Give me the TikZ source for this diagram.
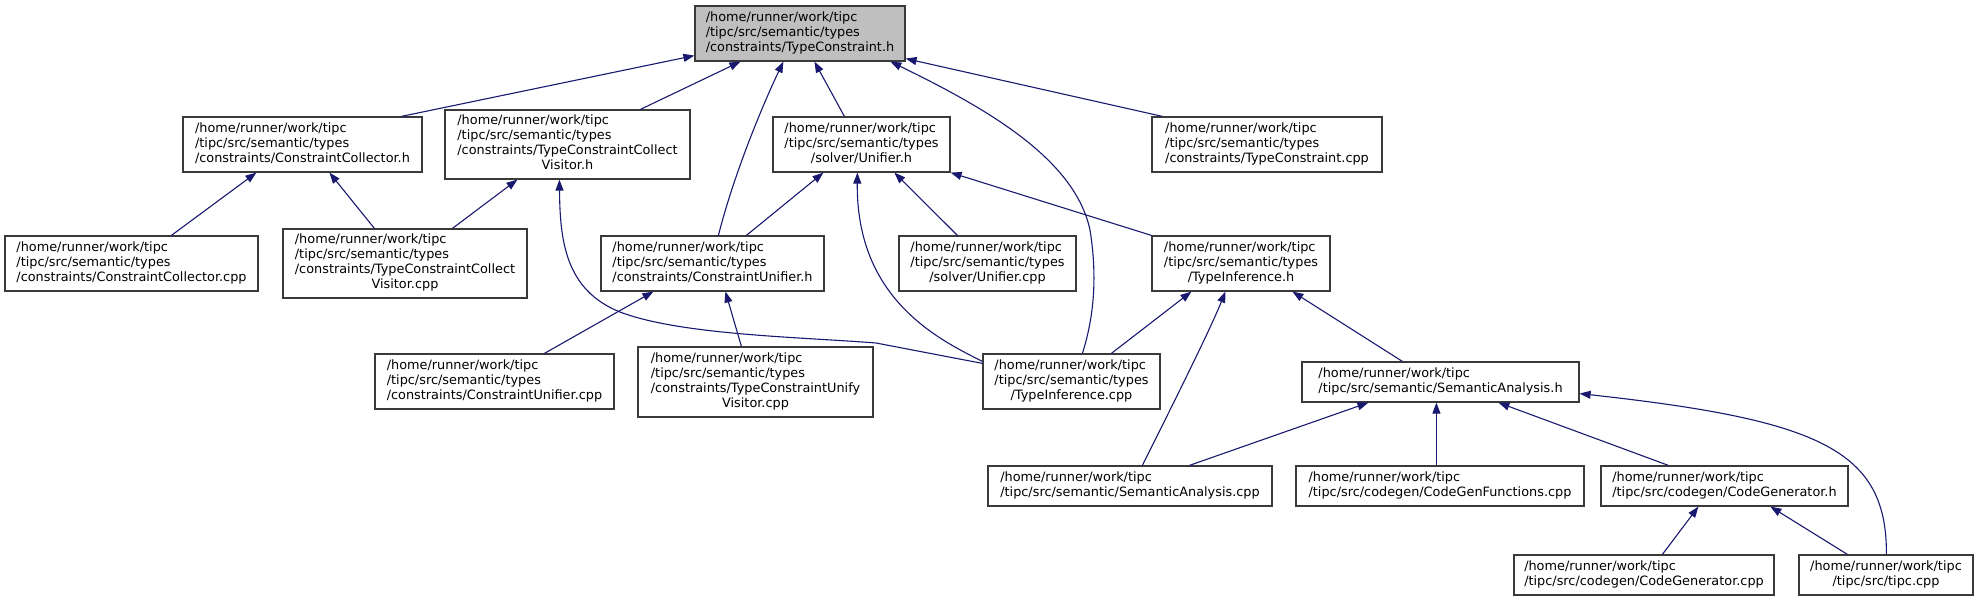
\documentclass[tikz,border=0pt]{standalone}
\usepackage{fontspec}
\setmainfont{DejaVu Sans}
\usetikzlibrary{arrows.meta,calc}
\definecolor{edgec}{HTML}{191970}
\definecolor{nodefill}{HTML}{BFBFBF}
\definecolor{bord}{HTML}{3A3A3A}
\newcommand\lns[1]{\begin{tabular}{@{}l@{}}#1\end{tabular}}
\newcommand\ctr[1]{\multicolumn{1}{@{}c@{}}{#1}}
\begin{document}
\begin{tikzpicture}[x=1pt,y=-1pt,
  box/.style={draw=bord,line width=1.2pt,inner sep=0pt,fill=white,font=\fontsize{12.85}{15}\selectfont},
  edge/.style={draw=edgec,line width=1.1pt,-{Triangle[length=11pt,width=8pt]}}]
\useasboundingbox (0,0) rectangle (1977,601);
\fill[white] (0,0) rectangle (1977,601);
% nodes
\node[box,fill=nodefill,minimum width=210pt,minimum height=55pt] (TCh) at (800,33.5)
 {\lns{/home/runner/work/tipc\\/tipc/src/semantic/types\\/constraints/TypeConstraint.h}};
\node[box,minimum width=239pt,minimum height=55pt] (CCh) at (302.5,144.5)
 {\lns{/home/runner/work/tipc\\/tipc/src/semantic/types\\/constraints/ConstraintCollector.h}};
\node[box,minimum width=245pt,minimum height=69pt] (TCCVh) at (567.5,144.5)
 {\lns{/home/runner/work/tipc\\/tipc/src/semantic/types\\/constraints/TypeConstraintCollect\\\ctr{Visitor.h}}};
\node[box,minimum width=177pt,minimum height=55pt] (Uh) at (861.5,144.5)
 {\lns{/home/runner/work/tipc\\/tipc/src/semantic/types\\\ctr{/solver/Unifier.h}}};
\node[box,minimum width=230pt,minimum height=55pt] (TCcpp) at (1267,144.5)
 {\lns{/home/runner/work/tipc\\/tipc/src/semantic/types\\/constraints/TypeConstraint.cpp}};
\node[box,minimum width=253pt,minimum height=55pt] (CCcpp) at (131.5,263.5)
 {\lns{/home/runner/work/tipc\\/tipc/src/semantic/types\\/constraints/ConstraintCollector.cpp}};
\node[box,minimum width=244pt,minimum height=69pt] (TCCVcpp) at (405,263.5)
 {\lns{/home/runner/work/tipc\\/tipc/src/semantic/types\\/constraints/TypeConstraintCollect\\\ctr{Visitor.cpp}}};
\node[box,minimum width=223pt,minimum height=55pt] (CUh) at (712.5,263.5)
 {\lns{/home/runner/work/tipc\\/tipc/src/semantic/types\\/constraints/ConstraintUnifier.h}};
\node[box,minimum width=177pt,minimum height=55pt] (Ucpp) at (987.5,263.5)
 {\lns{/home/runner/work/tipc\\/tipc/src/semantic/types\\\ctr{/solver/Unifier.cpp}}};
\node[box,minimum width=178pt,minimum height=55pt] (TIh) at (1241,263.5)
 {\lns{/home/runner/work/tipc\\/tipc/src/semantic/types\\\ctr{/TypeInference.h}}};
\node[box,minimum width=239pt,minimum height=55pt] (CUcpp) at (494.5,381.5)
 {\lns{/home/runner/work/tipc\\/tipc/src/semantic/types\\/constraints/ConstraintUnifier.cpp}};
\node[box,minimum width=235pt,minimum height=70pt] (TCUVcpp) at (755.5,382)
 {\lns{/home/runner/work/tipc\\/tipc/src/semantic/types\\/constraints/TypeConstraintUnify\\\ctr{Visitor.cpp}}};
\node[box,minimum width=177pt,minimum height=55pt] (TIcpp) at (1071.5,381.5)
 {\lns{/home/runner/work/tipc\\/tipc/src/semantic/types\\\ctr{/TypeInference.cpp}}};
\node[box,minimum width=277pt,minimum height=40pt] (SAh) at (1440.5,382)
 {\lns{/home/runner/work/tipc\\/tipc/src/semantic/SemanticAnalysis.h}};
\node[box,minimum width=284pt,minimum height=40pt] (SAcpp) at (1130,486)
 {\lns{/home/runner/work/tipc\\/tipc/src/semantic/SemanticAnalysis.cpp}};
\node[box,minimum width=288pt,minimum height=40pt] (CGFcpp) at (1440,486)
 {\lns{/home/runner/work/tipc\\/tipc/src/codegen/CodeGenFunctions.cpp}};
\node[box,minimum width=247pt,minimum height=40pt] (CGh) at (1724.5,486)
 {\lns{/home/runner/work/tipc\\/tipc/src/codegen/CodeGenerator.h}};
\node[box,minimum width=260pt,minimum height=40pt] (CGcpp) at (1644,575)
 {\lns{/home/runner/work/tipc\\/tipc/src/codegen/CodeGenerator.cpp}};
\node[box,minimum width=174pt,minimum height=40pt] (tipccpp) at (1886,575)
 {\lns{/home/runner/work/tipc\\\ctr{/tipc/src/tipc.cpp}}};
% edges
\draw[edge] ($(CCh.north west)+(219,0)$) -- ($(TCh.south west)+(0,-6)$);
\draw[edge] ($(TCCVh.north west)+(196,0)$) -- ($(TCh.south west)+(46,0)$);
\draw[edge] ($(CUh.north west)+(118,0)$) .. controls (735,170) and (765,100) .. ($(TCh.south west)+(89,0)$);
\draw[edge] ($(Uh.north west)+(72,0)$) -- ($(TCh.south west)+(120,0)$);
\draw[edge] ($(TIcpp.north west)+(100,0)$) .. controls (1093,320) and (1098,280) .. (1090,230)
  .. controls (1075,160) and (990,110) .. ($(TCh.south west)+(196,0)$);
\draw[edge] ($(TCcpp.north west)+(11,0)$) -- ($(TCh.south east)+(0,-3)$);
\draw[edge] ($(CCcpp.north west)+(167,0)$) -- ($(CCh.south west)+(74,0)$);
\draw[edge] ($(TCCVcpp.north west)+(92,0)$) -- ($(CCh.south west)+(147,0)$);
\draw[edge] ($(TCCVcpp.north west)+(170,0)$) -- ($(TCCVh.south west)+(73,0)$);
\draw[edge] ($(TIcpp.north west)+(0,10)$) -- (876,343) .. controls (800,337) and (680,335) .. (620,312)
  .. controls (565,290) and (560,240) .. ($(TCCVh.south west)+(115,0)$);
\draw[edge] ($(CUh.north west)+(146,0)$) -- ($(Uh.south west)+(51,0)$);
\draw[edge] ($(Ucpp.north west)+(59,0)$) -- ($(Uh.south west)+(122,0)$);
\draw[edge] (TIh.north west) -- (Uh.south east);
\draw[edge] ($(TIcpp.north west)+(0,8)$) .. controls (940,340) and (856,300) .. ($(Uh.south west)+(85,0)$);
\draw[edge] ($(CUcpp.north west)+(170,0)$) -- ($(CUh.south west)+(53,0)$);
\draw[edge] ($(TCUVcpp.north west)+(104,0)$) -- ($(CUh.south west)+(125,0)$);
\draw[edge] ($(TIcpp.north west)+(129,0)$) -- ($(TIh.south west)+(40,0)$);
\draw[edge] ($(SAcpp.north west)+(155,0)$) .. controls (1175,400) and (1210,330) .. ($(TIh.south west)+(74,0)$);
\draw[edge] ($(SAh.north west)+(101,0)$) -- ($(TIh.south west)+(141,0)$);
\draw[edge] ($(SAcpp.north west)+(202,0)$) -- ($(SAh.south west)+(67,0)$);
\draw[edge] ($(CGFcpp.north west)+(141,0)$) -- ($(SAh.south west)+(135,0)$);
\draw[edge] ($(CGh.north west)+(68,0)$) -- ($(SAh.south west)+(197,0)$);
\draw[edge] ($(tipccpp.north west)+(88,0)$) .. controls (1887,450) and (1820,420) .. ($(SAh.south east)+(0,-9)$);
\draw[edge] ($(CGcpp.north west)+(149,0)$) -- ($(CGh.south west)+(98,0)$);
\draw[edge] ($(tipccpp.north west)+(49,0)$) -- ($(CGh.south west)+(170,0)$);
\end{tikzpicture}
\end{document}
